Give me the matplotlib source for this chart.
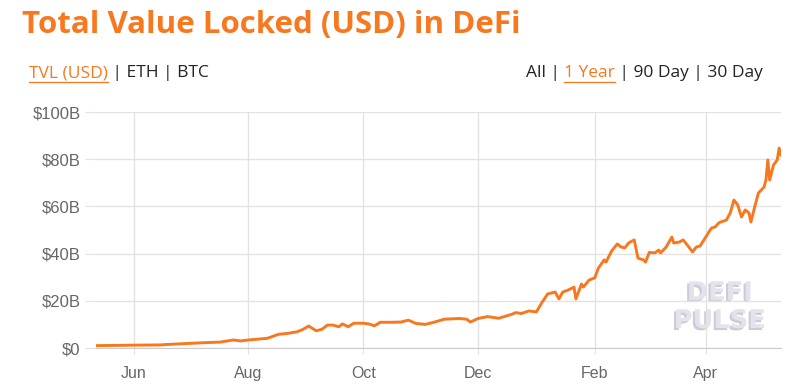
import matplotlib
matplotlib.use("Agg")
import matplotlib.pyplot as plt
import matplotlib.patheffects as pe
import pandas as pd

dates = ["2020-05-12", "2020-06-01", "2020-06-15", "2020-06-19", "2020-07-07", "2020-07-17",
         "2020-07-24", "2020-07-28", "2020-08-01", "2020-08-11", "2020-08-17", "2020-08-22",
         "2020-08-27", "2020-08-30", "2020-09-02", "2020-09-06", "2020-09-09", "2020-09-12",
         "2020-09-15", "2020-09-18", "2020-09-20", "2020-09-23", "2020-09-26", "2020-10-01",
         "2020-10-04", "2020-10-07", "2020-10-10", "2020-10-16", "2020-10-21", "2020-10-25",
         "2020-10-29", "2020-11-03", "2020-11-08", "2020-11-13", "2020-11-21", "2020-11-25",
         "2020-11-27", "2020-12-01", "2020-12-06", "2020-12-12", "2020-12-19", "2020-12-21",
         "2020-12-24", "2020-12-28", "2021-01-01", "2021-01-04", "2021-01-07", "2021-01-11",
         "2021-01-13", "2021-01-15", "2021-01-18", "2021-01-21", "2021-01-22", "2021-01-25",
         "2021-01-26", "2021-01-29", "2021-02-01", "2021-02-03", "2021-02-06", "2021-02-07",
         "2021-02-10", "2021-02-13", "2021-02-15", "2021-02-17", "2021-02-19", "2021-02-22",
         "2021-02-24", "2021-02-27", "2021-02-28", "2021-03-02", "2021-03-05", "2021-03-07",
         "2021-03-08", "2021-03-11", "2021-03-14", "2021-03-15", "2021-03-18", "2021-03-20",
         "2021-03-23", "2021-03-25", "2021-03-27", "2021-03-29", "2021-04-01", "2021-04-04",
         "2021-04-06", "2021-04-08", "2021-04-09", "2021-04-12", "2021-04-14", "2021-04-16",
         "2021-04-18", "2021-04-20", "2021-04-22", "2021-04-24", "2021-04-25", "2021-04-27",
         "2021-04-29", "2021-05-02", "2021-05-03", "2021-05-04", "2021-05-05", "2021-05-07",
         "2021-05-09", "2021-05-10", "2021-05-11"]
tvl_billions = [1.0, 1.2, 1.3, 1.5, 2.2, 2.5,
                3.4, 3.0, 3.4, 4.1, 5.8, 6.2,
                6.9, 7.9, 9.3, 7.3, 7.9, 9.7,
                9.7, 9.0, 10.2, 9.0, 10.5, 10.5,
                10.2, 9.4, 10.9, 10.9, 11.0, 11.8,
                10.4, 10.0, 11.0, 12.2, 12.5, 12.2,
                11.0, 12.5, 13.3, 12.6, 14.3, 15.0,
                14.6, 15.7, 15.3, 19.3, 22.9, 23.7,
                20.8, 23.7, 24.6, 25.8, 20.8, 27.1,
                25.8, 28.8, 29.7, 33.9, 37.3, 36.4,
                41.1, 44.1, 42.8, 42.4, 44.5, 45.8,
                38.1, 37.3, 36.4, 40.5, 40.3, 41.5,
                40.3, 42.8, 47.0, 44.5, 44.9, 45.8,
                42.8, 40.7, 42.8, 43.2, 47.0, 50.8,
                51.3, 53.0, 53.4, 54.2, 57.2, 62.7,
                60.6, 55.5, 58.5, 57.2, 53.4, 59.7,
                65.7, 68.2, 71.2, 79.7, 71.2, 77.5,
                79.7, 84.7, 81.8]
y_ticks = [0, 20, 40, 60, 80, 100]
y_labels = ["$0", "$20B", "$40B", "$60B", "$80B", "$100B"]
x_ticks = ["2020-06-01", "2020-08-01", "2020-10-01", "2020-12-01", "2021-02-01", "2021-04-01"]
x_labels = ["Jun", "Aug", "Oct", "Dec", "Feb", "Apr"]

ORANGE = "#f7781f"
GRID = "#e3e3e3"

fig = plt.figure(figsize=(8, 3.87), dpi=100)
ax = fig.add_axes([96/800, 1-348/387, (781-96)/800, (348-112)/387])

x = pd.to_datetime(dates)
ax.plot(x, tvl_billions, color=ORANGE, lw=2.1, solid_joinstyle="round", zorder=3)

ax.set_ylim(0, 100)
ax.set_xlim(pd.Timestamp("2020-05-12"), pd.Timestamp("2021-05-11"))
ax.set_yticks(y_ticks)
ax.set_yticklabels(y_labels)
ax.set_xticks(pd.to_datetime(x_ticks))
ax.set_xticklabels(x_labels)
ax.grid(True, color=GRID, lw=1)
for s in ["top", "right", "left"]:
    ax.spines[s].set_visible(False)
ax.spines["bottom"].set_color("#cccccc")
ax.tick_params(axis="y", length=8, color=GRID, pad=3, labelsize=12, labelcolor="#666666")
ax.tick_params(axis="x", length=4, color=GRID, pad=9, labelsize=11.5, labelcolor="#666666")
for lab in ax.get_xticklabels() + ax.get_yticklabels():
    lab.set_fontfamily("Liberation Sans")

# Title and header
fig.text(22/800, 1-25/387, "Total Value Locked (USD) in DeFi", color=ORANGE,
         fontsize=22.5, fontweight="bold", family="Open Sans", va="center", ha="left")

HDR = 12.5

def header_segments(x0, y, segs):
    renderer = fig.canvas.get_renderer()
    xs = x0
    for s, col, ul in segs:
        t = fig.text(xs, y, s, color=col, fontsize=HDR, family="Open Sans", va="center", ha="left")
        bb = t.get_window_extent(renderer=renderer)
        if ul:
            fig.add_artist(plt.Line2D([bb.x0/800, bb.x1/800], [y - 8.5/387, y - 8.5/387],
                                      color=col, lw=0.9, transform=fig.transFigure))
        xs = bb.x1 / 800
    return xs

y_h = 1 - 73/387
header_segments(29/800, y_h, [("TVL (USD)", ORANGE, True), (" | ETH | BTC", "#222222", False)])

segs_r = [("All | ", "#222222", False), ("1 Year", ORANGE, True), (" | 90 Day | 30 Day", "#222222", False)]
renderer = fig.canvas.get_renderer()
tmp = fig.text(0, 0, "".join(s for s, _, _ in segs_r), fontsize=HDR, family="Open Sans")
w = tmp.get_window_extent(renderer=renderer).width / 800
tmp.remove()
header_segments(763/800 - w, y_h, segs_r)

# Watermark
for txt, yy in [("DEFI", 293), ("PULSE", 321)]:
    ax.text(720/800, 1-yy/387, txt, transform=fig.transFigure, ha="center", va="center",
            fontsize=18.5, fontweight="bold", family="DejaVu Sans", color="#e4e2ec",
            path_effects=[pe.withSimplePatchShadow(offset=(-1.5, -1.5), shadow_rgbFace="#cdcbd7", alpha=1)],
            zorder=1)

fig.savefig("out.png", dpi=100)
